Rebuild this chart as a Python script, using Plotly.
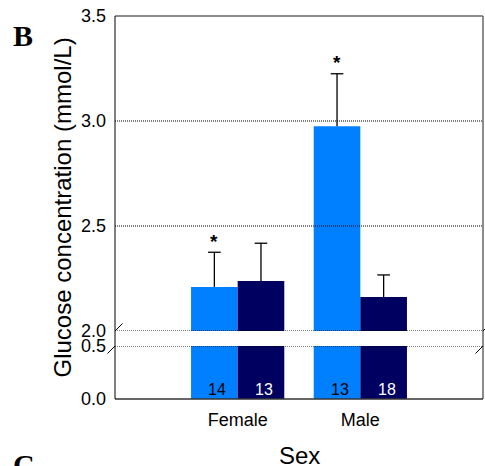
import plotly.graph_objects as go

# ---- data ----
groups = ["Female", "Male"]
group_pos = [1, 2]
light_means = [2.21, 2.975]
light_err = [0.165, 0.25]
dark_means = [2.238, 2.162]
dark_err = [0.18, 0.105]
light_n = ["14", "13"]
dark_n = ["13", "18"]
signif_light = [True, True]
upper_ticks = [2.0, 2.5, 3.0, 3.5]
lower_ticks = [0.0, 0.5]

LIGHT = "#0080ff"
DARK = "#000060"
FONT = "Liberation Sans, Arial, Helvetica, sans-serif"
SERIF = "Liberation Serif, Times New Roman, serif"
W = 0.38
DOT = "1px,1px"

fig = go.Figure()

for yax in ("y", "y2"):
    fig.add_trace(go.Bar(
        x=group_pos, y=light_means, width=W, offset=-W, marker_color=LIGHT,
        marker_line_width=0, yaxis=yax, showlegend=False, hoverinfo="skip",
    ))
    fig.add_trace(go.Bar(
        x=group_pos, y=dark_means, width=W, offset=0, marker_color=DARK,
        marker_line_width=0, yaxis=yax, showlegend=False, hoverinfo="skip",
    ))

# upward-only error bars (stem + top cap)
ex, ey, cx, cy = [], [], [], []
for xp, m, e in zip(group_pos, light_means, light_err):
    xc = xp - W / 2
    ex += [xc, xc, None]; ey += [m, m + e, None]; cx.append(xc); cy.append(m + e)
for xp, m, e in zip(group_pos, dark_means, dark_err):
    xc = xp + W / 2
    ex += [xc, xc, None]; ey += [m, m + e, None]; cx.append(xc); cy.append(m + e)
fig.add_trace(go.Scatter(x=ex, y=ey, mode="lines", line=dict(color="black", width=1.3),
                         yaxis="y", showlegend=False, hoverinfo="skip", cliponaxis=False))
fig.add_trace(go.Scatter(x=cx, y=cy, mode="markers", yaxis="y", showlegend=False, hoverinfo="skip",
                         marker=dict(symbol="line-ew", size=9, line=dict(color="black", width=1.3))))

annotations = []
# n labels inside bars
for xp, n in zip(group_pos, light_n):
    annotations.append(dict(x=xp - W / 2, y=0, xref="x", yref="y2", text=n, showarrow=False,
                            xshift=3, yshift=10, yanchor="middle",
                            font=dict(family=FONT, size=16, color="black")))
for xp, n in zip(group_pos, dark_n):
    annotations.append(dict(x=xp + W / 2, y=0, xref="x", yref="y2", text=n, showarrow=False,
                            xshift=3, yshift=10, yanchor="middle",
                            font=dict(family=FONT, size=16, color="white")))
# significance asterisks
for xp, m, e, s in zip(group_pos, light_means, light_err, signif_light):
    if s:
        annotations.append(dict(x=xp - W / 2, y=m + e, xref="x", yref="y", text="<b>*</b>",
                                showarrow=False, yanchor="middle", yshift=11,
                                font=dict(family=FONT, size=19, color="black")))
# axis titles
annotations.append(dict(x=0, y=0.5, xref="paper", yref="paper", xanchor="center", yanchor="middle",
                        xshift=-53, text="Glucose concentration (mmol/L)", textangle=-90,
                        showarrow=False, font=dict(family=FONT, size=24, color="black")))
annotations.append(dict(x=0.5, y=0, xref="paper", yref="paper", xanchor="center", yanchor="middle",
                        yshift=-56, text="Sex", showarrow=False,
                        font=dict(family=FONT, size=24, color="black")))
# panel letters
annotations.append(dict(x=0, y=1, xref="paper", yref="paper", xanchor="center", yanchor="middle",
                        xshift=-92, yshift=-19, text="<b>B</b>", showarrow=False,
                        font=dict(family=SERIF, size=30, color="black")))
annotations.append(dict(x=0, y=0, xref="paper", yref="paper", xanchor="center", yanchor="middle",
                        xshift=-91, yshift=-65, text="<b>C</b>", showarrow=False,
                        font=dict(family=SERIF, size=30, color="black")))

shapes = []
# dotted reference lines
for v in [3.0, 2.5, 2.0]:
    shapes.append(dict(type="line", xref="paper", yref="y", x0=0, x1=1, y0=v, y1=v,
                       line=dict(color="black", width=1, dash=DOT)))
shapes.append(dict(type="line", xref="paper", yref="y2", x0=0, x1=1, y0=0.5, y1=0.5,
                   line=dict(color="black", width=1, dash=DOT)))
# frame
shapes.append(dict(type="line", xref="paper", yref="paper", x0=0, x1=1, y0=1, y1=1,
                   line=dict(color="#666666", width=1.5)))
shapes.append(dict(type="line", xref="paper", yref="paper", x0=1, x1=1, y0=0, y1=1,
                   line=dict(color="#666666", width=1.5)))
shapes.append(dict(type="line", xref="paper", yref="paper", x0=0, x1=1, y0=0, y1=0,
                   line=dict(color="#333333", width=1.5)))
shapes.append(dict(type="line", xref="paper", yref="paper", x0=0, x1=0, y0=0, y1=1,
                   line=dict(color="black", width=1)))
# break marks
for xa in (0, 1):
    for yref, yv in (("y", 2.0), ("y2", 0.5)):
        shapes.append(dict(type="line", xref="paper", yref=yref, xsizemode="pixel", ysizemode="pixel",
                           xanchor=xa, yanchor=yv, x0=-7.5, x1=7.5, y0=-7.5, y1=7.5,
                           line=dict(color="black", width=1)))

tickfont = dict(family=FONT, size=18, color="black")
fig.update_layout(
    width=485, height=466,
    margin=dict(l=115, r=2, t=16, b=67),
    paper_bgcolor="white", plot_bgcolor="white",
    barmode="overlay",
    xaxis=dict(range=[0, 3], tickvals=group_pos, ticktext=groups, showgrid=False, anchor="y2",
               zeroline=False, showline=False, ticks="", tickfont=tickfont, ticklabelstandoff=8),
    yaxis=dict(domain=[68 / 383, 1], range=[2.0, 3.5], tickvals=upper_ticks,
               ticktext=[f"{v:.1f}" for v in upper_ticks], showgrid=False, zeroline=False,
               showline=False, ticks="", tickfont=tickfont, ticklabelstandoff=8),
    yaxis2=dict(domain=[0, 53 / 383], range=[0, 0.5], tickvals=lower_ticks,
                ticktext=[f"{v:.1f}" for v in lower_ticks], showgrid=False, zeroline=False,
                showline=False, ticks="", tickfont=tickfont, ticklabelstandoff=8),
    annotations=annotations,
    shapes=shapes,
)

fig.write_html("out.html", config={"displayModeBar": False},
               post_script="document.body.style.margin='0';document.body.style.overflow='hidden';")
